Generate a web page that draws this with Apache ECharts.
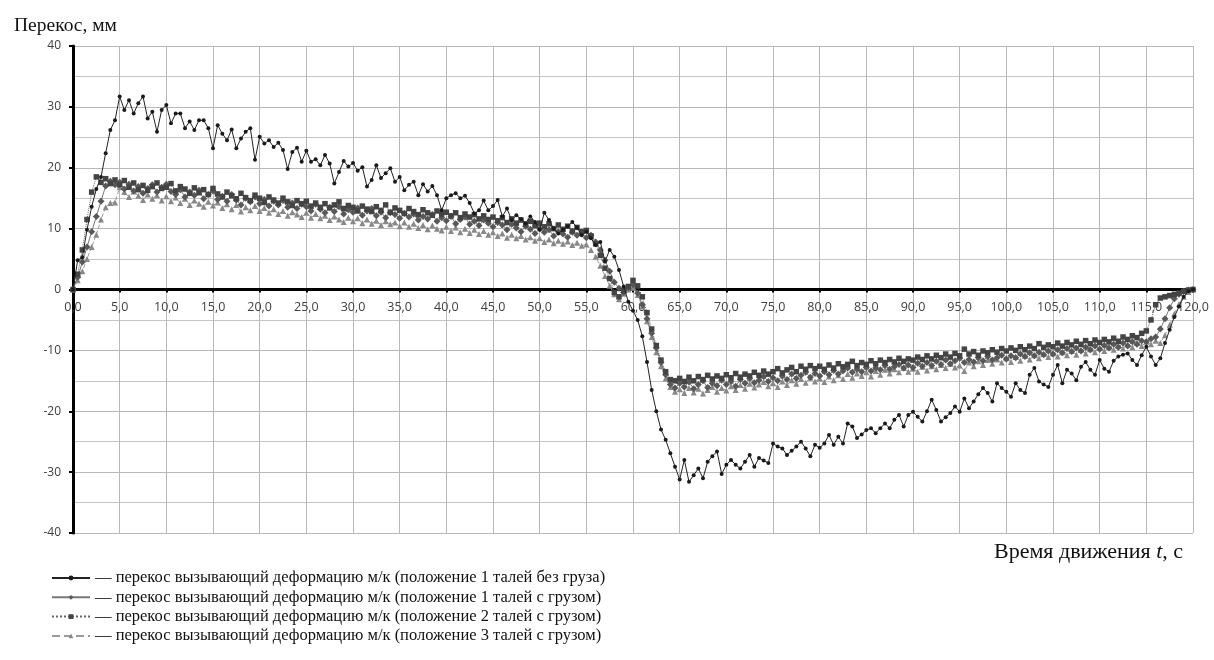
<!DOCTYPE html>
<html>
<head>
<meta charset="utf-8">
<script src="https://cdn.jsdelivr.net/npm/echarts@6/dist/echarts.min.js"></script>
<style>html,body{margin:0;padding:0;background:#fff;}#c{width:1214px;height:660px;}</style>
</head>
<body>
<div id="c"></div>
<script>
// time step 0.5 s, 0 .. 120
const times = [];
for (let i = 0; i <= 240; i++) times.push(i * 0.5);

const seriesNames = [
  'перекос вызывающий деформацию м/к (положение 1 талей без груза)',
  'перекос вызывающий деформацию м/к (положение 1 талей с грузом)',
  'перекос вызывающий деформацию м/к (положение 2 талей с грузом)',
  'перекос вызывающий деформацию м/к (положение 3 талей с грузом)'
];

const pos1NoLoad = [
  0, 4.8, 5.3, 9.8, 13.6, 16.5, 18.5, 22.4, 26.2, 27.8,
  31.7, 29.5, 31.1, 28.9, 30.6, 31.7, 28.1, 29.2, 25.9, 29.5,
  30.3, 27.3, 28.9, 28.9, 26.5, 27.6, 26.2, 27.8, 27.8, 26.5,
  23.2, 27.0, 25.6, 24.5, 26.3, 23.2, 24.8, 25.9, 26.5, 21.3,
  25.1, 24.0, 24.5, 23.4, 24.1, 22.9, 19.8, 22.6, 23.3, 21.0,
  22.8, 21.0, 21.4, 20.4, 22.1, 20.7, 17.4, 19.3, 21.1, 20.2,
  20.8, 19.5, 20.1, 16.9, 18.0, 20.4, 18.3, 19.1, 19.9, 17.7,
  18.5, 16.3, 17.2, 17.7, 15.5, 17.3, 16.1, 17.0, 15.5, 13.0,
  15.0, 15.5, 15.8, 15.0, 15.4, 14.2, 12.5, 13.0, 14.6, 13.0,
  13.7, 14.7, 12.0, 13.3, 11.4, 12.2, 11.6, 10.9, 12.0, 11.1,
  9.8, 12.6, 11.4, 10.0, 9.2, 9.8, 10.4, 11.1, 10.2, 8.9,
  9.5, 8.4, 7.3, 7.8, 4.6, 6.5, 5.4, 3.2, 0.5, -2.0,
  -3.5, -5.0, -7.7, -11.9, -16.5, -20.0, -23.0, -24.7, -26.9, -29.1,
  -31.2, -28.0, -31.6, -30.5, -29.4, -31.0, -28.3, -27.4, -26.6, -30.3,
  -28.8, -28.0, -28.8, -29.4, -28.3, -27.2, -29.1, -27.7, -28.1, -28.5,
  -25.3, -25.8, -26.1, -27.2, -26.5, -25.8, -25.0, -26.1, -27.4, -25.5,
  -26.0, -25.3, -23.9, -25.5, -24.2, -25.3, -22.0, -22.5, -24.4, -23.8,
  -23.1, -22.8, -23.6, -22.8, -22.0, -22.8, -21.4, -20.6, -22.5, -20.6,
  -20.1, -20.9, -21.7, -20.0, -18.1, -19.8, -21.7, -21.0, -20.3, -19.2,
  -20.1, -17.9, -19.5, -18.4, -17.2, -16.2, -17.0, -18.4, -15.4, -16.2,
  -16.8, -17.6, -15.4, -16.5, -17.0, -14.0, -12.9, -15.1, -15.6, -16.0,
  -14.0, -12.4, -15.4, -13.2, -13.8, -14.9, -12.7, -11.9, -13.2, -14.0,
  -11.6, -13.0, -13.5, -11.7, -11.0, -10.7, -10.5, -11.6, -12.4, -10.8,
  -9.4, -11.0, -12.4, -11.3, -8.8, -6.6, -4.5, -2.8, -1.2, -0.3,
  0
];

const pos1Load = [
  0, 2.0, 4.5, 7.0, 9.5, 12.0, 14.5, 17.0, 17.8, 17.2,
  17.6, 16.5, 17.3, 16.2, 16.9, 15.8, 16.6, 17.2, 16.0, 16.8,
  17.3, 16.1, 15.6, 16.4, 15.2, 16.0, 15.5, 16.3, 14.9, 15.6,
  16.2, 14.8, 15.3, 14.5, 15.6, 14.7, 13.9, 15.0, 14.4, 15.2,
  14.1, 14.8, 13.7, 14.5, 13.9, 14.6, 13.5, 14.2, 13.3, 14.0,
  13.6, 12.9, 14.0, 13.2, 12.6, 13.5, 12.8, 13.6, 12.4, 13.1,
  12.7, 13.4, 12.2, 12.9, 13.3, 12.1, 12.7, 11.8, 12.6, 12.3,
  11.7, 12.5, 11.9, 12.4, 11.4, 12.0, 11.6, 12.3, 11.2, 11.8,
  11.3, 12.0, 10.8, 11.5, 11.9, 10.7, 11.2, 10.5, 11.4, 10.9,
  10.3, 11.0, 10.6, 9.8, 10.7, 10.1, 9.5, 10.4, 9.9, 9.2,
  10.0, 9.4, 9.8, 8.8, 9.5, 9.1, 8.6, 9.4, 8.9, 9.3,
  8.5, 8.9, 7.8, 6.5, 4.8, 3.0, 1.2, 0.2, -0.5, 0.3,
  0.8, -0.6, -2.5, -4.8, -7.2, -9.6, -12.0, -14.0, -15.6, -16.2,
  -15.4, -16.0, -15.2, -16.3, -15.6, -15.0, -16.1, -15.4, -15.8, -14.9,
  -15.6, -15.1, -15.9, -14.8, -15.4, -14.6, -15.3, -14.9, -14.3, -15.1,
  -14.5, -15.0, -14.2, -14.8, -13.9, -14.6, -14.1, -13.6, -14.4, -13.8,
  -14.2, -13.5, -14.0, -13.3, -13.9, -13.4, -12.9, -13.6, -13.1, -13.5,
  -12.8, -13.4, -12.9, -13.2, -12.5, -13.1, -12.7, -12.3, -12.9, -12.4,
  -12.8, -12.1, -12.6, -12.0, -12.5, -11.8, -12.3, -11.6, -12.2, -11.7,
  -11.3, -12.0, -11.5, -11.9, -11.2, -11.7, -11.0, -11.6, -11.2, -10.8,
  -11.4, -10.9, -11.2, -10.6, -11.0, -10.4, -10.9, -10.3, -10.7, -10.1,
  -10.6, -9.9, -10.4, -9.7, -10.2, -9.6, -10.1, -9.5, -9.9, -9.3,
  -9.8, -9.2, -9.6, -9.0, -9.5, -8.8, -9.3, -8.6, -9.0, -8.4,
  -8.6, -8.1, -7.8, -6.5, -4.8, -3.0, -1.5, -0.8, -0.3, -0.1,
  0
];

const pos2Load = [
  0, 2.5, 6.5, 11.5, 16.0, 18.5, 17.6, 18.2, 17.4, 18.0,
  17.2, 17.9, 16.8, 17.5, 16.4, 17.1, 16.3, 16.9, 17.5, 16.6,
  16.8, 17.4, 16.2, 16.9, 16.5, 15.8, 16.7, 15.9, 16.4, 15.6,
  16.6, 15.7, 15.2, 16.0, 15.4, 14.9, 15.8, 15.1, 14.6, 15.5,
  15.0, 14.3, 15.2, 14.7, 14.2, 15.0, 14.4, 13.8, 14.6, 14.1,
  14.5, 13.7, 14.2, 13.5, 14.1, 13.4, 13.9, 14.4, 13.3, 13.8,
  13.5, 12.9, 13.7, 13.2, 12.8, 13.6, 13.0, 13.9, 12.7, 13.4,
  13.0, 12.5, 13.3, 12.8, 12.3, 13.1, 12.6, 12.2, 12.9, 12.4,
  12.7, 12.1, 12.6, 11.8, 12.4, 11.9, 12.3, 11.6, 12.1, 11.5,
  11.9, 11.3, 11.8, 11.0, 11.6, 10.9, 11.4, 10.7, 11.2, 10.5,
  10.9, 10.3, 10.8, 10.0, 10.6, 9.9, 10.4, 9.6, 10.2, 9.5,
  9.7, 8.8, 7.5, 5.6, 3.5, 1.8, -0.5, -1.2, -0.2, 0.5,
  1.5, 0.6, -1.2, -3.8, -6.5, -9.2, -11.6, -13.5, -14.8, -15.0,
  -14.6, -15.1, -14.4, -15.0, -14.3, -14.8, -14.1, -14.7, -14.2, -14.6,
  -14.0, -14.5, -13.8, -14.4, -13.9, -14.2, -13.6, -14.1, -13.4, -13.9,
  -13.5, -13.0, -13.7, -13.2, -12.8, -13.5, -12.6, -13.1, -12.5, -13.0,
  -12.6, -13.1, -12.4, -12.9, -12.2, -12.7, -12.3, -11.8, -12.5, -12.0,
  -12.3, -11.7, -12.2, -11.6, -12.0, -11.5, -11.9, -11.3, -11.8, -11.4,
  -11.6, -11.1, -11.5, -10.9, -11.4, -10.8, -11.2, -10.6, -11.1, -10.5,
  -10.9, -9.8, -10.6, -10.2, -10.8, -10.1, -10.4, -9.9, -10.3, -9.7,
  -10.1, -9.6, -10.0, -9.4, -9.9, -9.3, -9.7, -8.9, -9.5, -9.1,
  -9.4, -8.8, -9.3, -8.7, -9.1, -8.5, -9.0, -8.4, -8.9, -8.3,
  -8.7, -8.2, -8.6, -8.0, -8.5, -7.8, -8.2, -7.6, -7.9, -7.2,
  -6.8, -5.0, -2.5, -1.4, -1.2, -1.0, -0.8, -0.6, -0.3, -0.1,
  0
];

const pos3Load = [
  0, 1.5, 3.0, 5.0, 7.0, 9.0, 11.5, 13.5, 14.2, 14.3,
  16.8, 16.0, 15.2, 16.1, 15.4, 14.7, 15.6, 14.9, 15.5, 14.6,
  15.3, 14.5, 15.1, 14.2, 14.9, 13.9, 14.6, 14.1, 13.6, 14.4,
  13.8, 14.3, 13.4, 14.0, 13.2, 13.9, 12.8, 13.5, 13.0, 13.7,
  12.9, 13.4, 12.6, 13.2, 12.4, 12.9, 12.1, 12.7, 12.3, 11.9,
  12.6, 11.8, 12.4, 11.7, 12.1, 11.4, 12.0, 11.5, 11.1, 11.8,
  11.2, 11.7, 10.9, 11.5, 10.8, 11.3, 10.6, 11.2, 10.7, 11.0,
  10.4, 11.0, 10.3, 10.8, 10.1, 10.6, 9.9, 10.5, 10.0, 9.7,
  10.3, 9.6, 10.2, 9.4, 10.0, 9.3, 9.8, 9.1, 9.6, 9.0,
  9.4, 8.8, 9.2, 8.5, 9.0, 8.4, 8.8, 8.2, 8.6, 8.0,
  8.4, 7.8, 8.2, 7.6, 8.0, 7.5, 7.9, 7.3, 7.7, 7.2,
  7.4, 6.5, 5.4, 3.9, 2.2, 0.6, -0.8, -1.6, -0.7, 0.0,
  0.3, -0.9, -2.8, -5.2, -7.8, -10.3, -12.6, -14.6, -16.0, -16.8,
  -16.4, -17.0, -16.2, -16.9, -16.3, -17.1, -16.5, -16.0, -16.8, -16.2,
  -16.6, -15.9, -16.5, -15.7, -16.3, -15.5, -16.1, -15.6, -15.2, -15.9,
  -15.4, -16.0, -15.1, -15.7, -14.9, -15.5, -14.7, -15.3, -14.5, -15.1,
  -14.6, -15.2, -14.3, -14.9, -14.1, -14.7, -13.9, -14.5, -13.8, -14.2,
  -13.6, -14.3, -13.4, -14.0, -13.2, -13.8, -13.1, -13.6, -12.9, -13.5,
  -13.0, -13.5, -12.7, -13.3, -12.6, -13.1, -12.4, -12.9, -12.2, -12.8,
  -12.5, -13.4, -12.0, -12.6, -11.8, -12.4, -11.6, -12.2, -11.5, -12.0,
  -11.3, -11.9, -11.1, -11.7, -10.9, -11.5, -10.8, -11.3, -10.6, -11.1,
  -10.5, -11.0, -10.3, -10.8, -10.1, -10.7, -9.9, -10.5, -9.8, -10.3,
  -9.6, -10.1, -9.4, -9.9, -9.2, -9.7, -9.0, -9.5, -8.8, -9.3,
  -8.6, -9.0, -8.4, -8.8, -7.5, -5.8, -4.0, -2.4, -1.2, -0.4,
  0
];

const yTicks = [-40, -30, -20, -10, 0, 10, 20, 30, 40];

function pairs(vals) { return times.map((t, i) => [t, vals[i]]); }

const chart = echarts.init(document.getElementById('c'), null, { renderer: 'canvas' });
const serif = '"Liberation Serif", "DejaVu Serif", serif';
const sans = '"Open Sans", "Liberation Sans", sans-serif';

const gridTop = 46, gridBottom = 127, H = 660;
const plotH = H - gridTop - gridBottom;

chart.setOption({
  animation: false,
  backgroundColor: '#fff',
  title: [
    { text: 'Перекос, мм', left: 9, top: 11,
      textStyle: { fontFamily: serif, fontSize: 19.5, fontWeight: 'normal', color: '#111' } },
    { text: '{a|Время движения }{i|t}{a|, с}', left: 989, top: 536,
      textStyle: { fontWeight: 'normal', rich: {
        a: { fontFamily: serif, fontSize: 22, fontWeight: 'normal', color: '#111' },
        i: { fontFamily: serif, fontSize: 22, fontWeight: 'normal', fontStyle: 'italic', color: '#111' } } } }
  ],
  legend: {
    orient: 'vertical', left: 46, top: 564,
    itemWidth: 38, itemHeight: 6, itemGap: 1.3,
    formatter: n => '— ' + n,
    textStyle: { fontFamily: serif, fontSize: 16.5, color: '#111', lineHeight: 18 },
    data: [seriesNames[0], seriesNames[1], seriesNames[2], seriesNames[3]]
  },
  grid: { left: 73, right: 21, top: gridTop, bottom: gridBottom },
  xAxis: {
    type: 'value', min: 0, max: 120, interval: 5,
    offset: -plotH / 2,
    axisLine: { onZero: false, lineStyle: { color: '#000', width: 3 } },
    axisTick: { show: true, length: 3, lineStyle: { color: '#000', width: 2 } },
    axisLabel: { formatter: v => v.toFixed(1).replace('.', ','), color: '#404040', fontSize: 12.5, fontFamily: sans, margin: 11 },
    splitLine: { show: true, lineStyle: { color: '#b8b8b8', width: 1 } }
  },
  yAxis: {
    type: 'value', min: yTicks[0], max: yTicks[yTicks.length - 1], interval: 10,
    axisLine: { show: true, onZero: false, lineStyle: { color: '#000', width: 3 } },
    axisTick: { show: true, length: 4, lineStyle: { color: '#000', width: 2 } },
    axisLabel: { color: '#404040', fontSize: 12, fontFamily: sans, margin: 12 },
    splitLine: { show: true, lineStyle: { color: '#b8b8b8', width: 1 } },
    minorTick: { show: false, splitNumber: 2 },
    minorSplitLine: { show: true, lineStyle: { color: '#c4c4c4', width: 1 } }
  },
  series: [
    { name: seriesNames[3], type: 'line', data: pairs(pos3Load), z: 2,
      symbol: 'triangle', symbolSize: 6, showAllSymbol: true,
      lineStyle: { color: '#9a9a9a', width: 1, type: 'dashed' },
      itemStyle: { color: '#888' } },
    { name: seriesNames[1], type: 'line', data: pairs(pos1Load), z: 3,
      symbol: 'diamond', symbolSize: 7, showAllSymbol: true,
      lineStyle: { color: '#777', width: 1 },
      itemStyle: { color: '#585858' } },
    { name: seriesNames[2], type: 'line', data: pairs(pos2Load), z: 4,
      symbol: 'rect', symbolSize: 5.5, showAllSymbol: true,
      lineStyle: { color: '#666', width: 1, type: 'dotted' },
      itemStyle: { color: '#444' } },
    { name: seriesNames[0], type: 'line', data: pairs(pos1NoLoad), z: 5,
      symbol: 'circle', symbolSize: 4, showAllSymbol: true,
      lineStyle: { color: '#222', width: 1 },
      itemStyle: { color: '#1a1a1a' } }
  ]
});
</script>
</body>
</html>
